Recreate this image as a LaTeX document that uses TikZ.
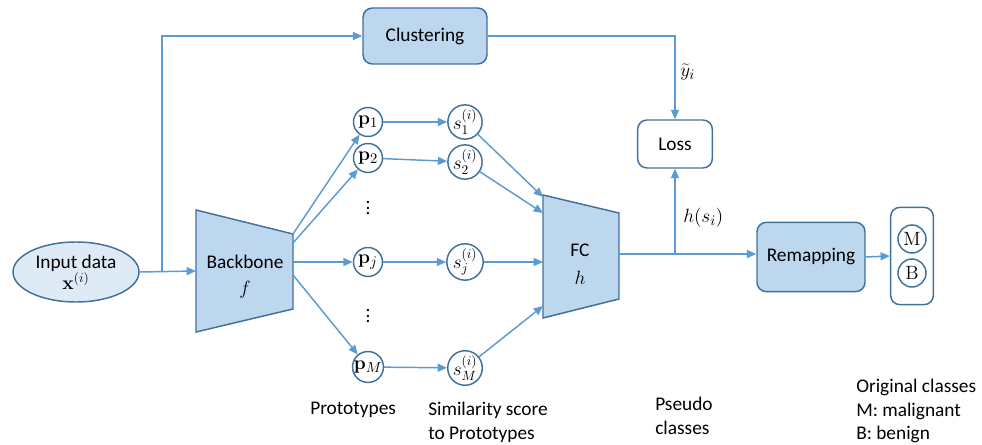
\documentclass[tikz,border=0pt]{standalone}
\usepackage[no-math]{fontspec}
\setmainfont{Carlito}
\usetikzlibrary{arrows.meta,shapes.geometric}
\definecolor{lineblue}{HTML}{5B9BD5}
\definecolor{edgeblue}{HTML}{41719C}
\definecolor{fillblue}{HTML}{BDD7EE}
\definecolor{lightfill}{HTML}{DEEBF7}
\begin{document}
\begin{tikzpicture}[x=0.75pt,y=-0.75pt,
  font=\fontsize{14.5}{17}\selectfont,
  conn/.style={draw=lineblue, line width=1.1pt},
  arr/.style={conn, -{Triangle[length=7pt,width=6pt]}},
  rbox/.style={draw=edgeblue, line width=1.1pt, rounded corners=7pt, inner sep=0pt},
  trap/.style={draw=edgeblue, line width=1.1pt, fill=fillblue},
  circ/.style={circle, draw=edgeblue, line width=1.1pt, fill=white, inner sep=0pt, font=\fontsize{15}{17}\selectfont},
  lbl/.style={inner sep=0pt, align=left, anchor=north west, font=\fontsize{14.5}{17.5}\selectfont}
]
\useasboundingbox (0,0) rectangle (982,445);

% input
\node[ellipse, draw=edgeblue, line width=1.1pt, fill=lightfill, minimum width=94.5pt, minimum height=45pt, inner sep=0pt, align=center] (in) at (76,272) {Input data\\[-1pt] \(\mathbf{x}^{(i)}\)};

% backbone
\draw[trap] (196,210) -- (293,234) -- (293,309) -- (196,332) -- cycle;
\node (bbtxt) at (245,262) {Backbone};
\node (bbf) at (245,290) {\(f\)};
\coordinate (bbL) at (196,271);
\coordinate (bb1) at (293,234);
\coordinate (bb2) at (293,243);
\coordinate (bb3) at (293,262);
\coordinate (bb4) at (293,275);
\coordinate (split) at (162,271);

% clustering and loss
\node[rbox, fill=fillblue, minimum width=93pt, minimum height=42pt] (clust) at (425,36) {Clustering};
\node[rbox, fill=white, minimum width=56pt, minimum height=36pt] (loss) at (675,144) {Loss};

% prototypes
\node[circ, minimum size=21.75pt] (p1) at (368,122) {\(\mathbf{p}_1\)};
\node[circ, minimum size=21.75pt] (p2) at (368,158) {\(\mathbf{p}_2\)};
\node[circ, minimum size=21.75pt] (pj) at (368,262) {\(\mathbf{p}_j\)};
\node[circ, minimum size=21.75pt] (pM) at (368,367) {\(\mathbf{p}_M\)};
\node[inner sep=0pt] (d1) at (368,204) {\(\vdots\)};
\node[inner sep=0pt] (d2) at (368,312) {\(\vdots\)};

% scores
\node[circ, minimum size=25.5pt, font=\fontsize{14.5}{16}\selectfont] (s1) at (465,122) {\(s_1^{(i)}\)};
\node[circ, minimum size=25.5pt, font=\fontsize{14.5}{16}\selectfont] (s2) at (465,162) {\(s_2^{(i)}\)};
\node[circ, minimum size=25.5pt, font=\fontsize{14.5}{16}\selectfont] (sj) at (465,262) {\(s_j^{(i)}\)};
\node[circ, minimum size=25.5pt, font=\fontsize{14.5}{16}\selectfont] (sM) at (465,368) {\(s_M^{(i)}\)};

% FC
\draw[trap] (543,195) -- (619,213) -- (619,299) -- (543,318) -- cycle;
\node (fctxt) at (580,250) {FC};
\node (fch) at (580,278) {\(h\)};
\coordinate (fc1) at (543,197);
\coordinate (fc2) at (543,213);
\coordinate (fc3) at (543,262);
\coordinate (fc4) at (543,306);
\coordinate (fcR) at (619,254);
\coordinate (br) at (675,254);

% remapping and output
\node[rbox, fill=fillblue, minimum width=81pt, minimum height=52pt] (remap) at (811,257) {Remapping};
\node[rbox, fill=white, minimum width=32pt, minimum height=73pt] (out) at (912,256) {};
\node[circ, minimum size=21pt] (cM) at (912,239) {\(\mathrm{M}\)};
\node[circ, minimum size=21pt] (cB) at (912,273) {\(\mathrm{B}\)};

% connectors
\draw[arr] (in.east) -- (bbL);
\draw[arr] (split) |- (clust.west);
\draw[arr] (clust.east) -| (loss.north);
\draw[arr] (bb1) -- (p1);
\draw[arr] (bb2) -- (p2);
\draw[arr] (bb3) -- (pj);
\draw[arr] (bb4) -- (pM);
\draw[arr] (p1) -- (s1);
\draw[arr] (p2) -- (s2);
\draw[arr] (pj) -- (sj);
\draw[arr] (pM) -- (sM);
\draw[arr] (s1) -- (fc1);
\draw[arr] (s2) -- (fc2);
\draw[arr] (sj) -- (fc3);
\draw[arr] (sM) -- (fc4);
\draw[arr] (fcR) -- (fcR -| remap.west);
\draw[arr] (br) -- (loss.south);
\draw[arr] (remap.east) -- (out.west);

% edge labels
\node[anchor=west, inner sep=0pt, font=\fontsize{15}{17}\selectfont] (ylbl) at (680,72) {\(\widetilde{y}_i\)};
\node[anchor=west, inner sep=0pt, font=\fontsize{15}{17}\selectfont] (hlbl) at (683,218) {\(h(s_i)\)};

% captions
\node[lbl] (cap1) at (310,402) {Prototypes};
\node[lbl] (cap2) at (428,402) {Similarity score\\to Prototypes};
\node[lbl] (cap3) at (655,397) {Pseudo\\classes};
\node[lbl] (cap4) at (856,379) {Original classes\\M: malignant\\B: benign};
\end{tikzpicture}
\end{document}
